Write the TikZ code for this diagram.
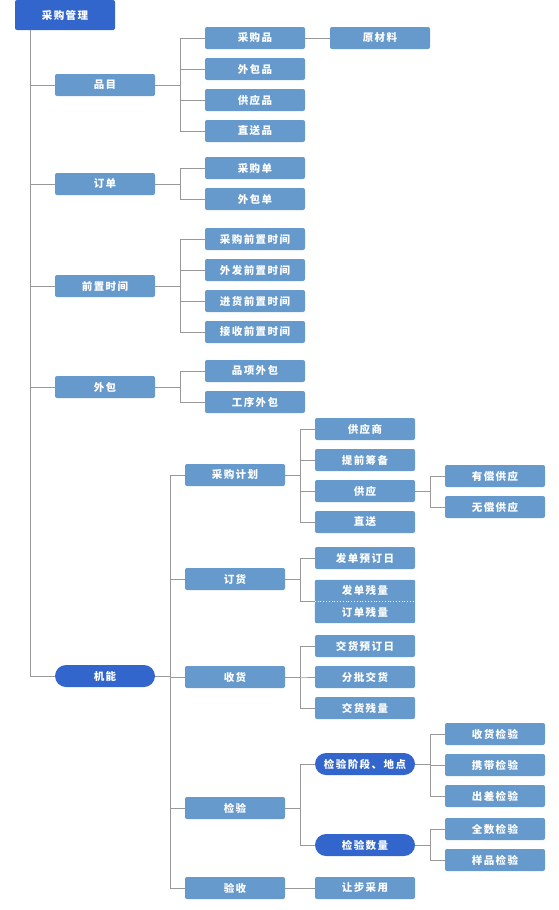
\documentclass[tikz,border=0pt]{standalone}
\usepackage{fontspec}
\setmainfont[LetterSpace=14]{Noto Sans CJK SC}
\usetikzlibrary{backgrounds}
\definecolor{lb}{HTML}{6699CC}
\definecolor{db}{HTML}{3366CC}
\definecolor{ln}{HTML}{999999}
\tikzset{
  box/.style={rectangle, rounded corners=2pt, fill=lb, text=white, minimum width=100pt, minimum height=22pt, inner sep=0pt, font=\fontsize{10.5}{12}\selectfont\bfseries},
  dbox/.style={box, fill=db},
  pill/.style={box, fill=db, rounded corners=11pt},
  conn/.style={draw=ln, line width=1pt},
}
\begin{document}
\begin{tikzpicture}[x=1pt,y=-1pt]
\useasboundingbox (0,0) rectangle (558,910);
% root
\node[dbox, minimum height=30pt] (root) at (65,15) {采购管理};
\coordinate (trunk) at (30,30);
% level 1
\node[box] (pm) at (105,85) {品目};
\node[box] (dd) at (105,184) {订单};
\node[box] (qz) at (105,286) {前置时间};
\node[box] (wb) at (105,387) {外包};
\node[pill] (jn) at (105,676) {机能};
% 品目
\node[box] (cgp) at (255,38) {采购品};
\node[box] (wbp) at (255,69) {外包品};
\node[box] (gyp) at (255,100) {供应品};
\node[box] (zsp) at (255,131) {直送品};
\node[box] (ycl) at (380,38) {原材料};
% 订单
\node[box] (cgd) at (255,168) {采购单};
\node[box] (wbd) at (255,199) {外包单};
% 前置时间
\node[box] (q1) at (255,239) {采购前置时间};
\node[box] (q2) at (255,270) {外发前置时间};
\node[box] (q3) at (255,301) {进货前置时间};
\node[box] (q4) at (255,332) {接收前置时间};
% 外包
\node[box] (w1) at (255,371) {品项外包};
\node[box] (w2) at (255,402) {工序外包};
% 机能
\node[box] (cgjh) at (235,475) {采购计划};
\node[box] (dh) at (235,579) {订货};
\node[box] (sh) at (235,677) {收货};
\node[box] (jy) at (235,808) {检验};
\node[box] (ys) at (235,888) {验收};
% 采购计划
\node[box] (gys) at (365,429) {供应商};
\node[box] (tqcb) at (365,460) {提前筹备};
\node[box] (gy) at (365,491) {供应};
\node[box] (zs) at (365,522) {直送};
\node[box] (ycgy) at (495,476) {有偿供应};
\node[box] (wcgy) at (495,507) {无偿供应};
% 订货
\node[box] (fdyd) at (365,558) {发单预订日};
\node[box, fill=none, rounded corners=0pt, minimum height=21pt] (fdcl) at (365,590.5) {发单残量};
\node[box, fill=none, rounded corners=0pt, minimum height=22pt] (ddcl) at (365,612) {订单残量};
\begin{pgfonlayer}{background}
\fill[lb, rounded corners=2pt] (fdcl.north west) rectangle (ddcl.south east);
\end{pgfonlayer}
\draw[white, dotted, line width=0.8pt] (fdcl.south west) -- (fdcl.south east);
% 收货
\node[box] (jhyd) at (365,646) {交货预订日};
\node[box] (fpjh) at (365,677) {分批交货};
\node[box] (jhcl) at (365,708) {交货残量};
% 检验
\node[pill] (jyjd) at (365,764) {检验阶段、地点};
\node[pill] (jysl) at (365,845) {检验数量};
\node[box] (shjy) at (495,734) {收货检验};
\node[box] (xdjy) at (495,765) {携带检验};
\node[box] (ccjy) at (495,796) {出差检验};
\node[box] (qsjy) at (495,829) {全数检验};
\node[box] (ypjy) at (495,860) {样品检验};
% 验收
\node[box] (rbcy) at (365,888) {让步采用};

% connectors
\foreach \c in {pm,dd,qz,wb,jn} \draw[conn] (trunk) |- (\c.west);
\foreach \c in {cgp,wbp,gyp,zsp} \draw[conn] (pm.east) -- ++(25,0) |- (\c.west);
\draw[conn] (cgp.east) -- (ycl.west);
\foreach \c in {cgd,wbd} \draw[conn] (dd.east) -- ++(25,0) |- (\c.west);
\foreach \c in {q1,q2,q3,q4} \draw[conn] (qz.east) -- ++(25,0) |- (\c.west);
\foreach \c in {w1,w2} \draw[conn] (wb.east) -- ++(25,0) |- (\c.west);
\foreach \c in {cgjh,dh,sh,jy,ys} \draw[conn] (jn.east) -- ++(15,0) |- (\c.west);
\foreach \c in {gys,tqcb,gy,zs} \draw[conn] (cgjh.east) -- ++(15,0) |- (\c.west);
\foreach \c in {ycgy,wcgy} \draw[conn] (gy.east) -- ++(15,0) |- (\c.west);
\draw[conn] (dh.east) -- ++(15,0) |- (fdyd.west);
\draw[conn] (dh.east) -- ++(15,0) |- (fdcl.south west);
\foreach \c in {jhyd,fpjh,jhcl} \draw[conn] (sh.east) -- ++(15,0) |- (\c.west);
\foreach \c in {jyjd,jysl} \draw[conn] (jy.east) -- ++(15,0) |- (\c.west);
\foreach \c in {shjy,xdjy,ccjy} \draw[conn] (jyjd.east) -- ++(15,0) |- (\c.west);
\foreach \c in {qsjy,ypjy} \draw[conn] (jysl.east) -- ++(15,0) |- (\c.west);
\draw[conn] (ys.east) -- (rbcy.west);
\end{tikzpicture}
\end{document}
